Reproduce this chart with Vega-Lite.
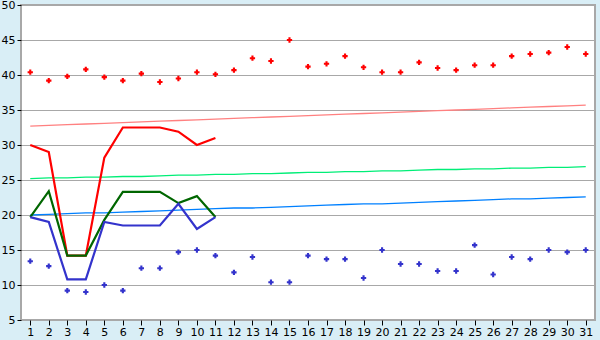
{
  "$schema": "https://vega.github.io/schema/vega-lite/v6.json",
  "width": 574,
  "height": 315,
  "autosize": "none",
  "padding": {"left": 21, "top": 5, "right": 5, "bottom": 20},
  "background": "#d9eef6",
  "config": {
    "view": {"fill": "white", "stroke": "#a8a8a8", "strokeWidth": 2},
    "axis": {"labelFont": "DejaVu Sans", "labelFontSize": 11, "labelColor": "#000", "tickColor": "#000", "domain": false, "title": null, "labelOverlap": false, "labelFlush": false}
  },
  "datasets": {
    "lines": [
      {"day": 1, "s": "max", "v": 30.0}, {"day": 2, "s": "max", "v": 29.0}, {"day": 3, "s": "max", "v": 14.2}, {"day": 4, "s": "max", "v": 14.2}, {"day": 5, "s": "max", "v": 28.2}, {"day": 6, "s": "max", "v": 32.5}, {"day": 7, "s": "max", "v": 32.5}, {"day": 8, "s": "max", "v": 32.5}, {"day": 9, "s": "max", "v": 31.9}, {"day": 10, "s": "max", "v": 30.0}, {"day": 11, "s": "max", "v": 31.0},
      {"day": 1, "s": "mean", "v": 19.7}, {"day": 2, "s": "mean", "v": 23.4}, {"day": 3, "s": "mean", "v": 14.2}, {"day": 4, "s": "mean", "v": 14.2}, {"day": 5, "s": "mean", "v": 19.3}, {"day": 6, "s": "mean", "v": 23.3}, {"day": 7, "s": "mean", "v": 23.3}, {"day": 8, "s": "mean", "v": 23.3}, {"day": 9, "s": "mean", "v": 21.7}, {"day": 10, "s": "mean", "v": 22.7}, {"day": 11, "s": "mean", "v": 19.7},
      {"day": 1, "s": "min", "v": 19.7}, {"day": 2, "s": "min", "v": 19.0}, {"day": 3, "s": "min", "v": 10.8}, {"day": 4, "s": "min", "v": 10.8}, {"day": 5, "s": "min", "v": 19.0}, {"day": 6, "s": "min", "v": 18.5}, {"day": 7, "s": "min", "v": 18.5}, {"day": 8, "s": "min", "v": 18.5}, {"day": 9, "s": "min", "v": 21.6}, {"day": 10, "s": "min", "v": 18.0}, {"day": 11, "s": "min", "v": 19.7}
    ],
    "normals": [
      {"day": 1, "nmax": 32.7, "nmean": 25.2, "nmin": 20.0},
      {"day": 2, "nmax": 32.8, "nmean": 25.3, "nmin": 20.1},
      {"day": 3, "nmax": 32.9, "nmean": 25.3, "nmin": 20.2},
      {"day": 4, "nmax": 33.0, "nmean": 25.4, "nmin": 20.3},
      {"day": 5, "nmax": 33.1, "nmean": 25.4, "nmin": 20.3},
      {"day": 6, "nmax": 33.2, "nmean": 25.5, "nmin": 20.4},
      {"day": 7, "nmax": 33.3, "nmean": 25.5, "nmin": 20.5},
      {"day": 8, "nmax": 33.4, "nmean": 25.6, "nmin": 20.6},
      {"day": 9, "nmax": 33.5, "nmean": 25.7, "nmin": 20.7},
      {"day": 10, "nmax": 33.6, "nmean": 25.7, "nmin": 20.8},
      {"day": 11, "nmax": 33.7, "nmean": 25.8, "nmin": 20.9},
      {"day": 12, "nmax": 33.8, "nmean": 25.8, "nmin": 21.0},
      {"day": 13, "nmax": 33.9, "nmean": 25.9, "nmin": 21.0},
      {"day": 14, "nmax": 34.0, "nmean": 25.9, "nmin": 21.1},
      {"day": 15, "nmax": 34.1, "nmean": 26.0, "nmin": 21.2},
      {"day": 16, "nmax": 34.2, "nmean": 26.1, "nmin": 21.3},
      {"day": 17, "nmax": 34.3, "nmean": 26.1, "nmin": 21.4},
      {"day": 18, "nmax": 34.4, "nmean": 26.2, "nmin": 21.5},
      {"day": 19, "nmax": 34.5, "nmean": 26.2, "nmin": 21.6},
      {"day": 20, "nmax": 34.6, "nmean": 26.3, "nmin": 21.6},
      {"day": 21, "nmax": 34.7, "nmean": 26.3, "nmin": 21.7},
      {"day": 22, "nmax": 34.8, "nmean": 26.4, "nmin": 21.8},
      {"day": 23, "nmax": 34.9, "nmean": 26.5, "nmin": 21.9},
      {"day": 24, "nmax": 35.0, "nmean": 26.5, "nmin": 22.0},
      {"day": 25, "nmax": 35.1, "nmean": 26.6, "nmin": 22.1},
      {"day": 26, "nmax": 35.2, "nmean": 26.6, "nmin": 22.2},
      {"day": 27, "nmax": 35.3, "nmean": 26.7, "nmin": 22.3},
      {"day": 28, "nmax": 35.4, "nmean": 26.7, "nmin": 22.3},
      {"day": 29, "nmax": 35.5, "nmean": 26.8, "nmin": 22.4},
      {"day": 30, "nmax": 35.6, "nmean": 26.8, "nmin": 22.5},
      {"day": 31, "nmax": 35.7, "nmean": 26.9, "nmin": 22.6}
    ],
    "records": [
      {"day": 1, "rmax": 40.4, "rmin": 13.4},
      {"day": 2, "rmax": 39.2, "rmin": 12.7},
      {"day": 3, "rmax": 39.8, "rmin": 9.2},
      {"day": 4, "rmax": 40.8, "rmin": 9.0},
      {"day": 5, "rmax": 39.7, "rmin": 10.0},
      {"day": 6, "rmax": 39.2, "rmin": 9.2},
      {"day": 7, "rmax": 40.2, "rmin": 12.4},
      {"day": 8, "rmax": 39.0, "rmin": 12.4},
      {"day": 9, "rmax": 39.5, "rmin": 14.7},
      {"day": 10, "rmax": 40.4, "rmin": 15.0},
      {"day": 11, "rmax": 40.1, "rmin": 14.2},
      {"day": 12, "rmax": 40.7, "rmin": 11.8},
      {"day": 13, "rmax": 42.4, "rmin": 14.0},
      {"day": 14, "rmax": 42.0, "rmin": 10.4},
      {"day": 15, "rmax": 45.0, "rmin": 10.4},
      {"day": 16, "rmax": 41.2, "rmin": 14.2},
      {"day": 17, "rmax": 41.6, "rmin": 13.7},
      {"day": 18, "rmax": 42.7, "rmin": 13.7},
      {"day": 19, "rmax": 41.1, "rmin": 11.0},
      {"day": 20, "rmax": 40.4, "rmin": 15.0},
      {"day": 21, "rmax": 40.4, "rmin": 13.0},
      {"day": 22, "rmax": 41.8, "rmin": 13.0},
      {"day": 23, "rmax": 41.0, "rmin": 12.0},
      {"day": 24, "rmax": 40.7, "rmin": 12.0},
      {"day": 25, "rmax": 41.4, "rmin": 15.7},
      {"day": 26, "rmax": 41.4, "rmin": 11.5},
      {"day": 27, "rmax": 42.7, "rmin": 14.0},
      {"day": 28, "rmax": 43.0, "rmin": 13.7},
      {"day": 29, "rmax": 43.2, "rmin": 15.0},
      {"day": 30, "rmax": 44.0, "rmin": 14.7},
      {"day": 31, "rmax": 43.0, "rmin": 15.0}
    ]
  },
  "encoding": {
    "x": {
      "field": "day", "type": "quantitative",
      "scale": {"domain": [0.5, 31.5], "nice": false, "zero": false},
      "axis": {"values": [1,2,3,4,5,6,7,8,9,10,11,12,13,14,15,16,17,18,19,20,21,22,23,24,25,26,27,28,29,30,31], "tickCount": 40, "grid": false, "tickSize": 5, "labelPadding": 1, "format": "d"}
    }
  },
  "layer": [
    {
      "data": {"name": "normals"},
      "mark": {"type": "rule", "opacity": 0},
      "encoding": {
        "y": {"field": "nmax", "type": "quantitative", "scale": {"domain": [5, 50], "nice": false, "zero": false},
          "axis": {"values": [5,10,15,20,25,30,35,40,45,50], "tickCount": 20, "format": "d", "grid": true, "gridColor": "#a8a8a8", "gridWidth": 1, "gridOpacity": 1, "tickSize": 4, "labelPadding": 2}}
      }
    },
    {
      "data": {"name": "normals"},
      "mark": {"type": "line", "color": "#ff8080", "strokeWidth": 1.3},
      "encoding": {"y": {"field": "nmax", "type": "quantitative"}}
    },
    {
      "data": {"name": "normals"},
      "mark": {"type": "line", "color": "#00ee77", "strokeWidth": 1.3},
      "encoding": {"y": {"field": "nmean", "type": "quantitative"}}
    },
    {
      "data": {"name": "normals"},
      "mark": {"type": "line", "color": "#0080ff", "strokeWidth": 1.3},
      "encoding": {"y": {"field": "nmin", "type": "quantitative"}}
    },
    {
      "data": {"name": "lines"},
      "mark": {"type": "line", "strokeWidth": 2.2},
      "encoding": {
        "y": {"field": "v", "type": "quantitative"},
        "color": {"field": "s", "type": "nominal", "scale": {"domain": ["max", "mean", "min"], "range": ["#ff0000", "#006600", "#3333cc"]}, "legend": null}
      }
    },
    {
      "data": {"name": "records"},
      "mark": {"type": "point", "shape": "cross", "filled": true, "size": 28, "color": "#ff0000", "opacity": 1},
      "encoding": {"y": {"field": "rmax", "type": "quantitative"}}
    },
    {
      "data": {"name": "records"},
      "mark": {"type": "point", "shape": "cross", "filled": true, "size": 28, "color": "#3333cc", "opacity": 1},
      "encoding": {"y": {"field": "rmin", "type": "quantitative"}}
    }
  ]
}
